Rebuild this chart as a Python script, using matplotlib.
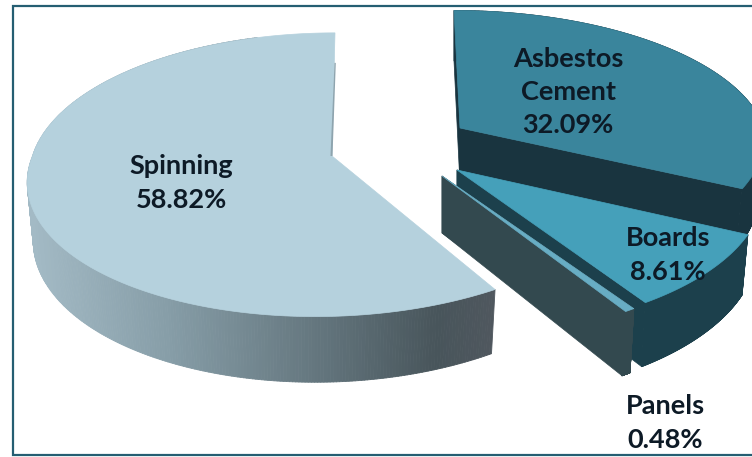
#!/usr/bin/env python
"""Exploded 3D-look pie of fibre cement production by process."""
import numpy as np
import matplotlib
matplotlib.use("Agg")
import matplotlib.pyplot as plt
from matplotlib.collections import PolyCollection
from matplotlib.colors import LinearSegmentedColormap
from matplotlib.patches import Polygon, Rectangle

plt.rcParams["font.family"] = ["Lato", "DejaVu Sans"]

labels = ["Asbestos\nCement", "Boards", "Panels", "Spinning"]
values = [32.09, 8.61, 0.48, 58.82]

top_colors = ["#3a859c", "#45a0ba", "#68adc4", "#b5d1dd"]
wall_colors = ["#19343f", "#1c404c", "#33494f", None]
frame_color = "#255e72"
text_color = "#0d1a26"

# apex x, apex y, x scale, y scale, skew below centre, skew above centre
placement = [(460, 128, 1.00, 0.94, 20, -6),
             (457, 170, 1.00, 1.00, 0, 0),
             (442, 176, 1.00, 1.00, -4, 0),
             (332, 156, 0.985, 0.985, 17, 3)]
label_pos = [(568, 92), (668, 255), (665, 423), (181, 183)]

RX, RY, PERSP = 304, 141.5, 0.132
DEPTH = 57

wall_cmap = LinearSegmentedColormap.from_list(
    "wall", [(0.0, "#a3bac5"), (0.30, "#869da7"), (0.63, "#63757d"),
             (0.88, "#48555b"), (1.0, "#4f575e")])


def project(place, ang, radius=1.0, down=0.0):
    """Map a point on the unit disc to pixels with a simple perspective."""
    x0, y0, xs, ys, skew_lo, skew_hi = place
    u = radius * np.cos(ang)
    v = radius * np.sin(ang)
    w = 1 + PERSP * v
    shrink = 1 - 0.02 * down
    x = x0 + xs * u * RX * shrink / w + skew_lo * np.minimum(v, 0) + skew_hi * np.maximum(v, 0)
    y = y0 - ys * RY * v / w + down * DEPTH / w
    return x, y


fig = plt.figure(figsize=(7.52, 4.57), dpi=100)
ax = fig.add_axes([0, 0, 1, 1])
ax.set_xlim(0, 752)
ax.set_ylim(457, 0)
ax.axis("off")

ax.add_patch(Rectangle((12.5, 6), 760, 449, fc="white", ec=frame_color, lw=1.6, zorder=0))

fractions = np.array(values) / sum(values)
edges = np.radians(90 - 360 * np.concatenate([[0], np.cumsum(fractions)]))

# far slices first, the detached sliver last
for i in [0, 1, 3, 2]:
    place = placement[i]
    ang = np.linspace(edges[i], edges[i + 1], 400)
    tx, ty = project(place, ang)
    bx, by = project(place, ang, down=1.0)

    keep = range(len(ang) - 1)
    if wall_colors[i] is None:
        # the back of the big slice never shows
        keep = [k for k in keep if np.sin(ang[k]) < 0 or np.cos(ang[k]) < -0.3]
    quads = [[(tx[k], ty[k]), (tx[k + 1], ty[k + 1]), (bx[k + 1], by[k + 1]), (bx[k], by[k])]
             for k in keep]
    if wall_colors[i] is None:
        shade = wall_cmap(np.clip((tx[list(keep)] - 30) / 465, 0, 1))
    else:
        shade = [wall_colors[i]] * len(quads)
    ax.add_collection(PolyCollection(quads, facecolors=shade, edgecolors=shade, lw=0.6, zorder=2))

    ax_, ay_ = project(place, 0.0, radius=0.0)
    abx, aby = project(place, 0.0, radius=0.0, down=1.0)
    if wall_colors[i] is not None:
        for end in (0, -1):
            ax.add_patch(Polygon([(ax_, ay_), (tx[end], ty[end]), (bx[end], by[end]), (abx, aby)],
                                 fc=wall_colors[i], ec=wall_colors[i], lw=0.5, zorder=2))
    else:
        # thin grey sliver of the hidden back face
        ax.add_patch(Polygon([(ax_ - 1.5, ay_), (tx[-1] - 0.5, ty[-1] + 30), (tx[-1] + 0.8, ty[-1] + 30), (ax_ + 0.5, ay_)],
                             fc="#8ea4ae", ec="none", zorder=4))

    top = [(ax_, ay_)] + list(zip(tx, ty))
    ax.add_patch(Polygon(top, fc=top_colors[i], ec=top_colors[i], lw=0.5, zorder=3))

for name, val, (lx, ly) in zip(labels, values, label_pos):
    ax.text(lx, ly, f"{name}\n{val:.2f}%", ha="center", va="center", ma="center",
            fontsize=19.5, fontweight="bold", color=text_color, linespacing=1.45, zorder=6)

fig.savefig("out.png", dpi=100)
